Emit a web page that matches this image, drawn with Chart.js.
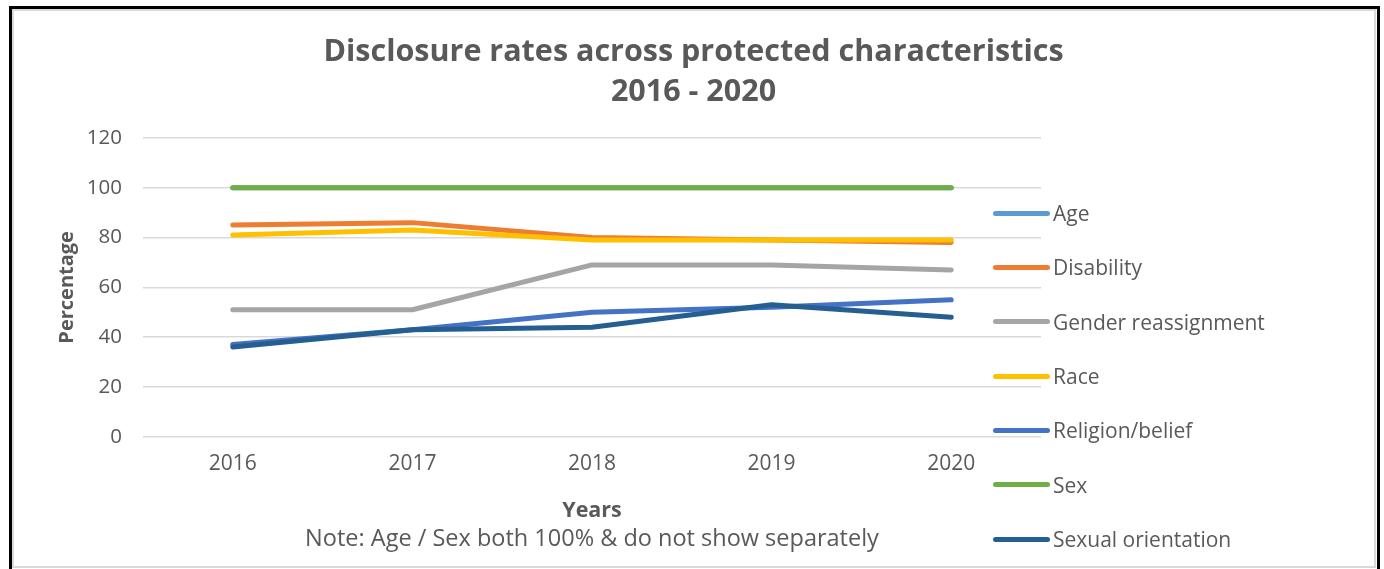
<!DOCTYPE html>
<html>
<head>
<meta charset="utf-8">
<title>Disclosure rates across protected characteristics 2016 - 2020</title>
<script src="https://cdn.jsdelivr.net/npm/chart.js@4.4.1/dist/chart.umd.min.js"></script>
<style>
  html, body { margin: 0; padding: 0; background: #fff; overflow: hidden; }
  #frame { position: absolute; left: 9px; top: 6px; width: 1365px; height: 620px; border: 3px solid #000; }
  #inner { position: absolute; left: 12px; top: 9px; width: 1360px; height: 555px; border: 2px solid #d9d9d9; }
  #box { position: absolute; left: 14px; top: 11px; width: 1359px; height: 556px; }
  #legend { position: absolute; left: 993px; top: 186px; margin: 0; padding: 0; list-style: none;
            font: 21px "Open Sans", sans-serif; color: #595959; }
  #legend li { height: 54.33px; display: flex; align-items: center; white-space: nowrap; }
  #legend .sw { display: inline-block; width: 57px; height: 5px; border-radius: 3px; margin-right: 3px; }
</style>
</head>
<body>
<div id="frame"></div>
<div id="inner"></div>
<div id="box"><canvas id="chart"></canvas></div>
<ul id="legend"></ul>
<script>
// data
var years = ['2016', '2017', '2018', '2019', '2020'];
var seriesNames = ['Age', 'Disability', 'Gender reassignment', 'Race', 'Religion/belief', 'Sex', 'Sexual orientation'];
var age = [100, 100, 100, 100, 100];
var disability = [85, 86, 80, 79, 78];
var genderReassignment = [51, 51, 69, 69, 67];
var race = [81, 83, 79, 79, 79];
var religionBelief = [37, 43, 50, 52, 55];
var sex = [100, 100, 100, 100, 100];
var sexualOrientation = [36, 43, 44, 53, 48];
var yTicks = [0, 20, 40, 60, 80, 100, 120];

var seriesValues = [age, disability, genderReassignment, race, religionBelief, sex, sexualOrientation];
var colours = ['#5b9bd5', '#ed7d31', '#a5a5a5', '#ffc000', '#4472c4', '#70ad47', '#255e91'];
var grey = '#595959';

Chart.defaults.font.family = '"Open Sans", sans-serif';

var datasets = seriesNames.map(function (name, i) {
	return {
		label: name,
		data: seriesValues[i],
		borderColor: colours[i],
		backgroundColor: colours[i],
		borderWidth: 5,
		borderCapStyle: 'round',
		borderJoinStyle: 'round',
		fill: false,
		// later series sit on top, like the original
		order: -i
	};
});

var config = {
type: 'line',
data: {
	labels: years,
	datasets: datasets
},
options: {
	responsive: true,
	maintainAspectRatio: false,
	animation: false,
	layout: {
		padding: { left: 0, top: 0, right: 0, bottom: 14 }
	},
	elements: {
		point: { radius: 0, hoverRadius: 0 },
		line: { tension: 0 }
	},
	plugins: {
		legend: { display: false },
		tooltip: { enabled: false },
		title: {
			display: true,
			text: ['Disclosure rates across protected characteristics', '2016 - 2020'],
			color: grey,
			font: { size: 30.5, weight: 'bold', lineHeight: 40 / 30.5 },
			padding: { top: 21, bottom: 26 }
		},
		subtitle: {
			display: true,
			position: 'bottom',
			fullSize: false,
			text: 'Note: Age / Sex both 100% & do not show separately',
			color: grey,
			font: { size: 23.5 },
			padding: { top: 1.5, bottom: 0 }
		}
	},
	scales: {
		x: {
			offset: true,
			grid: { display: false, drawTicks: false },
			border: { display: false },
			ticks: { color: grey, font: { size: 21 }, padding: 14.4 },
			title: {
				display: true,
				text: 'Years',
				color: grey,
				font: { size: 21.5, weight: 'bold' },
				padding: { top: 0, bottom: 0 }
			},
			afterFit: function (scale) { scale.height = 86.6; }
		},
		y: {
			min: 0,
			max: 120,
			border: { display: false },
			grid: { color: '#d9d9d9', lineWidth: 1.5, drawTicks: false },
			ticks: { color: grey, font: { size: 20.5 }, padding: 21 },
			afterBuildTicks: function (scale) {
				scale.ticks = yTicks.map(function (v) { return { value: v }; });
			},
			title: {
				display: true,
				text: 'Percentage',
				color: grey,
				font: { size: 20, weight: 'bold' },
				padding: { top: 41, bottom: 0 }
			},
			afterFit: function (scale) { scale.width = 129; }
		},
		// empty box on the right: keeps room for the legend list
		side: {
			type: 'linear',
			position: 'right',
			display: true,
			grid: { display: false, drawTicks: false },
			border: { display: false },
			ticks: { display: false },
			afterFit: function (scale) { scale.width = 332; }
		}
	}
}
};

window.onload = function () {
	var ctx = document.getElementById('chart').getContext('2d');
	window.myLine = new Chart(ctx, config);

	// legend as a list, in series order
	var ul = document.getElementById('legend');
	window.myLine.data.datasets.forEach(function (ds) {
		var li = document.createElement('li');
		var sw = document.createElement('span');
		sw.className = 'sw';
		sw.style.background = ds.borderColor;
		li.appendChild(sw);
		li.appendChild(document.createTextNode(ds.label));
		ul.appendChild(li);
	});
};
</script>
</body>
</html>
